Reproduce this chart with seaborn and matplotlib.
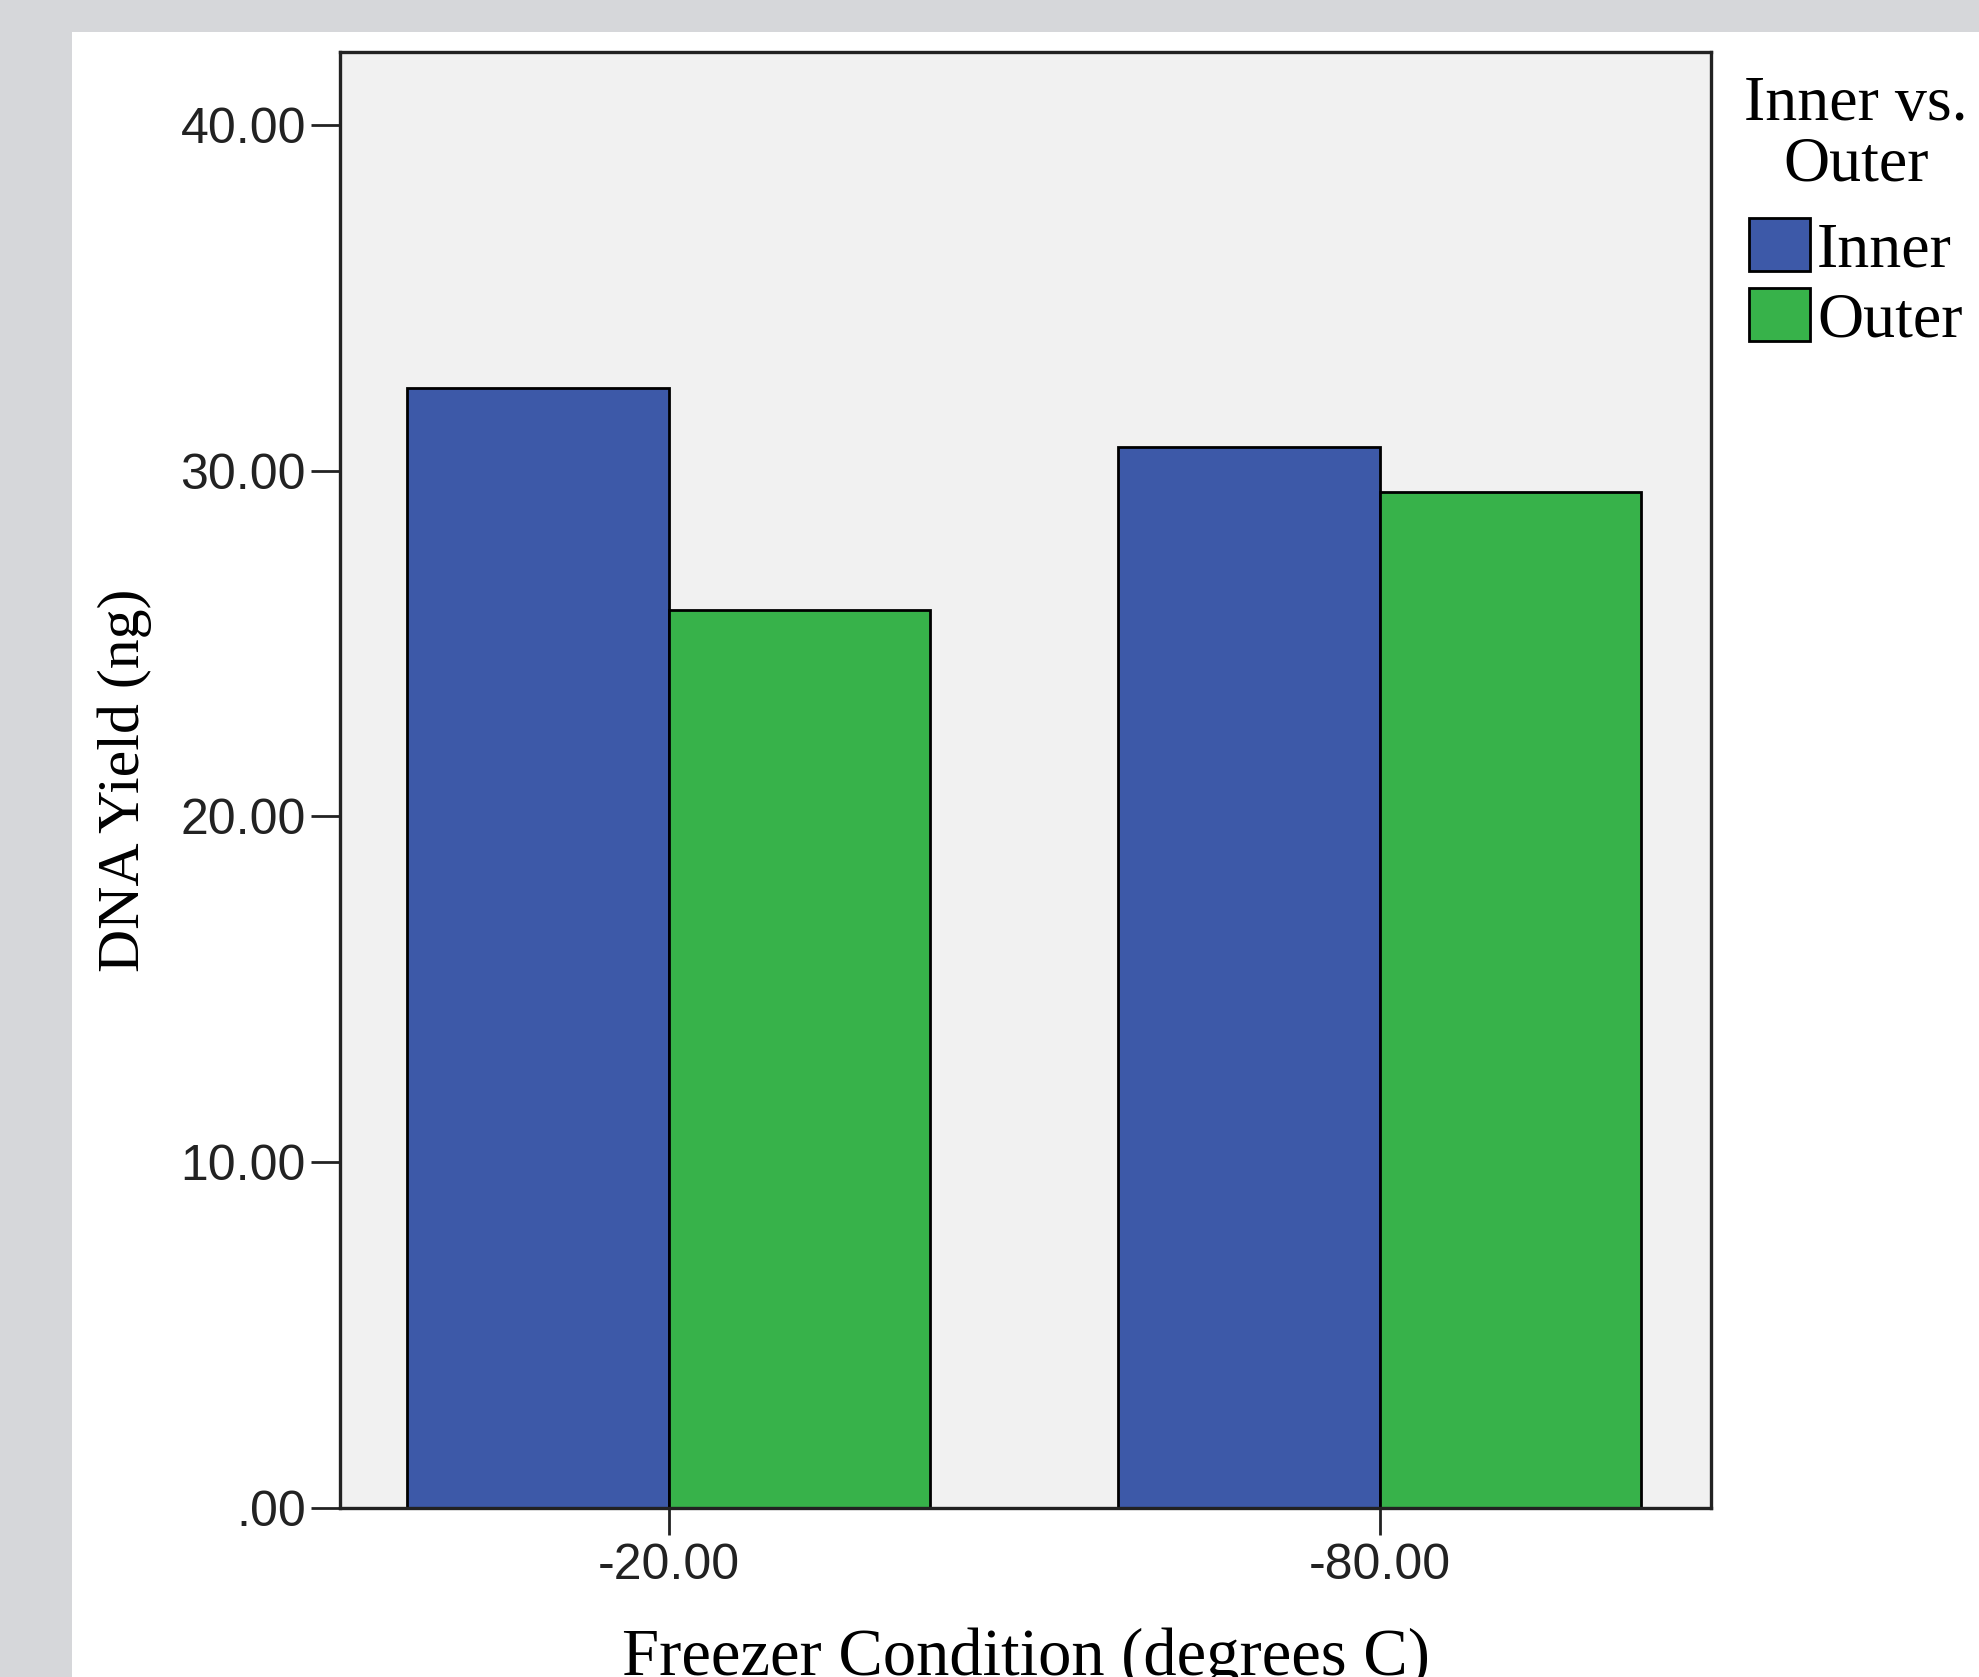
import pandas as pd
import matplotlib
matplotlib.use("Agg")
import matplotlib.pyplot as plt
from matplotlib.patches import Rectangle
import seaborn as sns

# ---- datos ----
condiciones = ["-20.00", "-80.00"]
posiciones = ["Inner", "Outer"]
inner_yield = [32.39, 30.70]
outer_yield = [25.97, 29.38]
yticks = [0, 10, 20, 30, 40]
ytick_labels = [".00", "10.00", "20.00", "30.00", "40.00"]

df = pd.DataFrame({
    "condicion": condiciones * 2,
    "posicion": [posiciones[0]] * 2 + [posiciones[1]] * 2,
    "yield": inner_yield + outer_yield,
})

colores = {"Inner": "#3d59a8", "Outer": "#37b24a"}

sns.set_style("ticks")
plt.rcParams["font.family"] = ["Liberation Sans", "DejaVu Sans"]

W, H = 1979, 1677
fig = plt.figure(figsize=(W / 100, H / 100), dpi=100)
fig.patch.set_facecolor("#d6d7da")
fig.patches.append(Rectangle((72 / W, 0), 1 - 72 / W, 1 - 32 / H,
                             transform=fig.transFigure, facecolor="white",
                             edgecolor="none", zorder=-10))

ax = fig.add_axes([340 / W, 1 - 1508 / H, (1711 - 340) / W, (1508 - 52) / H])
ax.set_zorder(1)
ax.set_facecolor("#f1f1f1")

sns.barplot(data=df, x="condicion", y="yield", hue="posicion",
            order=condiciones, hue_order=posiciones, palette=colores,
            saturation=1, width=0.736, edgecolor="black", linewidth=2,
            errorbar=None, ax=ax)

ax.set_xlim(-0.462, 1.466)
ax.set_ylim(0, 42.11)
ax.set_yticks(yticks)
ax.set_yticklabels(ytick_labels)

for s in ax.spines.values():
    s.set_linewidth(2.4)
    s.set_color("#222222")

ax.tick_params(axis="y", length=21, width=2, pad=3.5, labelsize=36,
               colors="#222222")
ax.tick_params(axis="x", length=19.5, width=2, pad=6, labelsize=36,
               colors="#222222")

ax.set_ylabel("DNA Yield (ng)", fontsize=43, family="Liberation Serif",
              color="black")
ax.set_xlabel("Freezer Condition (degrees C)", fontsize=48,
              family="Liberation Serif", color="black")
ax.yaxis.set_label_coords(-0.137, 0.5)
ax.xaxis.set_label_coords(0.5, -0.082)

handles, labels = ax.get_legend_handles_labels()
ax.get_legend().remove()
leg = fig.legend(handles, labels, title="Inner vs.\nOuter",
                 loc="upper left", bbox_to_anchor=(1744 / W, 1 - 76 / H),
                 frameon=False, borderpad=0, borderaxespad=0,
                 handlelength=0.95, handleheight=0.9, handletextpad=0.12,
                 labelspacing=0.12,
                 prop={"family": "Liberation Serif", "size": 46},
                 title_fontproperties={"family": "Liberation Serif",
                                       "size": 46})
leg.get_title().set_multialignment("center")
leg.get_title().set_linespacing(1.05)
leg.get_title().set_color("black")
# un poco mas de aire entre titulo y entradas
leg._legend_box.sep = 17
for t in leg.get_texts():
    t.set_color("black")

fig.savefig("out.png", dpi=100, facecolor=fig.get_facecolor())
